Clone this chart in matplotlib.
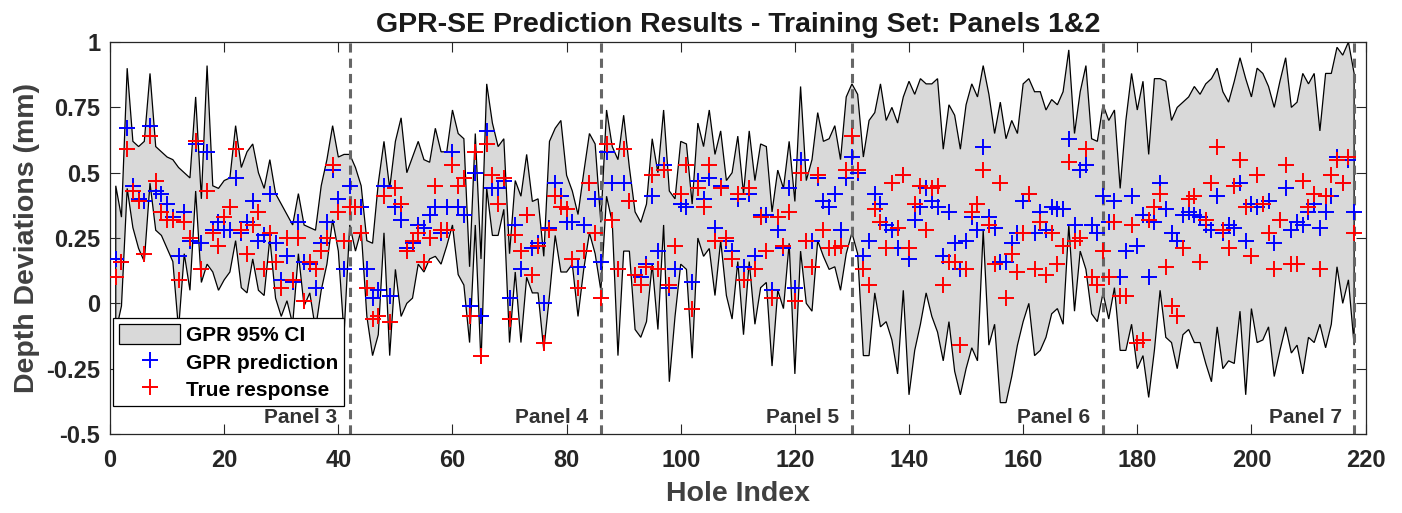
import numpy as np
import matplotlib.pyplot as plt

plt.rcParams['font.family'] = ['Liberation Sans', 'DejaVu Sans']
plt.rcParams['font.weight'] = 'bold'

# hole index 1..218
hole = np.arange(1, 219)

ci_upper = [
    0.45, 0.33, 0.90, 0.62, 0.60, 0.62, 0.88, 0.60, 0.58, 0.56, 0.55, 0.52, 0.50, 0.48, 0.79, 0.40, 0.91, 0.45, 0.44, 0.47, 0.48,
    0.68, 0.52, 0.58, 0.61, 0.50, 0.44, 0.55, 0.42, 0.38, 0.34, 0.30, 0.42, 0.30, 0.29, 0.28, 0.45, 0.55, 0.68, 0.56, 0.57,
    0.57, 0.52, 0.45, 0.24, 0.23, 0.46, 0.62, 0.44, 0.62, 0.71, 0.50, 0.56, 0.62, 0.55, 0.54, 0.67, 0.58, 0.58, 0.74, 0.65,
    0.63, 0.14, 0.65, 0.17, 0.84, 0.69, 0.60, 0.63, 0.19, 0.47, 0.41, 0.57, 0.39, 0.40, 0.18, 0.62, 0.67, 0.70, 0.49, 0.43,
    0.34, 0.50, 0.65, 0.61, 0.31, 0.74, 0.60, 0.55, 0.72, 0.52, 0.35, 0.31, 0.38, 0.63, 0.50, 0.74, 0.43, 0.40, 0.62, 0.61,
    0.38, 0.69, 0.60, 0.74, 0.57, 0.66, 0.47, 0.50, 0.64, 0.42, 0.66, 0.47, 0.61, 0.60, 0.35, 0.51, 0.44, 0.62, 0.39, 0.83,
    0.47, 0.55, 0.73, 0.62, 0.63, 0.68, 0.55, 0.79, 0.84, 0.80, 0.56, 0.70, 0.73, 0.84, 0.70, 0.75, 0.69, 0.79, 0.85, 0.80, 0.86,
    0.84, 0.84, 0.86, 0.59, 0.76, 0.72, 0.59, 0.76, 0.84, 0.79, 0.91, 0.80, 0.65, 0.77, 0.63, 0.70, 0.65, 0.84, 0.86, 0.81,
    0.81, 0.74, 0.78, 0.76, 0.81, 0.97, 0.65, 0.81, 0.91, 0.63, 0.62, 0.76, 0.70, 0.74, 0.44, 0.70, 0.88, 0.74, 0.85, 0.57,
    0.86, 0.86, 0.85, 0.70, 0.75, 0.77, 0.79, 0.83, 0.80, 0.84, 0.86, 0.90, 0.81, 0.77, 0.85, 0.94, 0.86, 0.79, 0.90, 0.88,
    0.83, 0.75, 0.85, 0.94, 0.75, 0.77, 0.88, 0.84, 0.88, 0.66, 0.88, 0.88, 0.98, 0.95, 1.00, 0.88,
]

ci_lower = [
    -0.11, -0.01, 0.44, 0.29, 0.21, 0.16, 0.46, 0.28, 0.26, 0.21, 0.16, -0.10, 0.19, 0.05, 0.43, 0.08, 0.15, 0.12, 0.05, 0.09, 0.12,
    0.24, 0.06, 0.04, 0.17, 0.05, 0.03, 0.25, 0.02, -0.05, 0.01, -0.08, 0.19, -0.01, 0.04, -0.10, 0.05, 0.15, 0.32, 0.20, -0.12,
    0.30, 0.20, 0.28, -0.05, -0.20, -0.12, 0.27, -0.20, 0.13, -0.05, 0.00, 0.02, 0.15, 0.12, 0.17, 0.18, 0.15, 0.22, 0.30, 0.11,
    0.07, -0.15, 0.30, -0.23, 0.44, 0.26, 0.26, 0.36, -0.15, 0.12, -0.15, 0.10, 0.04, 0.04, -0.18, 0.03, 0.26, 0.12, 0.12, 0.15,
    -0.05, 0.13, 0.27, 0.19, 0.05, 0.41, 0.31, -0.20, 0.20, 0.20, -0.10, -0.13, -0.07, 0.15, -0.10, 0.30, -0.30, -0.05, 0.15, 0.13,
    -0.21, 0.25, 0.18, 0.21, 0.03, 0.24, 0.03, -0.06, 0.16, -0.12, 0.16, -0.08, 0.06, 0.08, -0.24, 0.05, -0.02, 0.23, -0.27, 0.20,
    0.00, -0.03, 0.24, 0.18, 0.13, 0.14, 0.05, 0.19, 0.27, 0.19, -0.20, -0.20, 0.04, -0.09, -0.07, -0.14, -0.27, 0.05, -0.35, -0.18, -0.08,
    0.04, -0.05, -0.11, -0.22, -0.07, -0.26, -0.35, -0.25, -0.17, -0.22, 0.28, -0.16, -0.08, -0.38, -0.38, -0.28, -0.16, -0.07, 0.00, -0.20,
    -0.18, -0.13, -0.04, -0.02, -0.08, 0.30, -0.03, 0.20, 0.13, -0.04, -0.07, 0.04, -0.06, 0.06, -0.18, -0.18, -0.08, -0.25, -0.20, -0.36,
    -0.18, 0.05, -0.13, -0.15, -0.25, -0.12, -0.10, -0.15, -0.15, -0.23, -0.30, -0.09, -0.25, -0.22, -0.23, -0.03, -0.35, -0.02, -0.15, -0.14,
    -0.09, -0.28, -0.18, -0.09, -0.19, -0.16, -0.27, -0.13, -0.15, -0.08, -0.17, -0.08, 0.14, 0.00, 0.09, -0.16,
]

gpr_pred = [
    0.17, 0.16, 0.67, 0.45, 0.40, 0.39, 0.68, 0.43, 0.42, 0.38, 0.33, 0.18, 0.35, 0.24, 0.61, 0.23, 0.58, 0.28, 0.31, 0.28, 0.28,
    0.48, 0.27, 0.31, 0.39, 0.24, 0.26, 0.42, 0.23, 0.09, 0.18, 0.08, 0.31, 0.16, 0.15, 0.06, 0.23, 0.31, 0.51, 0.40, 0.13,
    0.45, 0.37, 0.37, 0.13, 0.02, 0.05, 0.45, 0.03, 0.37, 0.32, 0.21, 0.23, 0.30, 0.29, 0.34, 0.37, 0.27, 0.37, 0.58, 0.37,
    0.34, -0.01, 0.50, -0.05, 0.66, 0.44, 0.44, 0.47, 0.02, 0.30, 0.13, 0.34, 0.21, 0.23, 0.00, 0.29, 0.46, 0.41, 0.31, 0.31,
    0.14, 0.30, 0.46, 0.40, 0.16, 0.58, 0.46, 0.13, 0.46, 0.39, 0.11, 0.10, 0.15, 0.41, 0.20, 0.53, 0.06, 0.13, 0.38, 0.37,
    0.08, 0.47, 0.40, 0.48, 0.29, 0.45, 0.24, 0.20, 0.40, 0.14, 0.42, 0.18, 0.34, 0.34, 0.05, 0.28, 0.21, 0.44, 0.06, 0.55,
    0.24, 0.24, 0.48, 0.39, 0.37, 0.42, 0.28, 0.48, 0.56, 0.50, 0.18, 0.24, 0.42, 0.38, 0.30, 0.28, 0.21, 0.49, 0.17, 0.32, 0.37,
    0.44, 0.39, 0.37, 0.18, 0.35, 0.23, 0.13, 0.24, 0.33, 0.28, 0.60, 0.33, 0.29, 0.16, 0.16, 0.23, 0.27, 0.39, 0.42, 0.27,
    0.35, 0.28, 0.37, 0.36, 0.36, 0.63, 0.30, 0.51, 0.53, 0.30, 0.27, 0.41, 0.31, 0.39, 0.10, 0.20, 0.41, 0.22, 0.34, 0.10,
    0.31, 0.46, 0.36, 0.27, 0.24, 0.34, 0.35, 0.34, 0.33, 0.30, 0.28, 0.41, 0.27, 0.30, 0.29, 0.46, 0.24, 0.38, 0.37, 0.38,
    0.39, 0.23, 0.32, 0.44, 0.28, 0.31, 0.30, 0.35, 0.38, 0.29, 0.35, 0.41, 0.56, 0.46, 0.55, 0.35,
]

true_resp = [
    0.10, 0.16, 0.59, 0.43, 0.39, 0.19, 0.64, 0.47, 0.35, 0.32, 0.32, 0.09, 0.31, 0.25, 0.62, 0.13, 0.43, 0.27, 0.22, 0.33, 0.37,
    0.59, 0.28, 0.19, 0.30, 0.35, 0.13, 0.27, 0.16, 0.06, 0.25, 0.09, 0.25, 0.01, 0.16, 0.13, 0.20, 0.25, 0.53, 0.35, 0.24,
    0.37, 0.37, 0.27, 0.06, -0.06, -0.05, 0.41, -0.07, 0.44, 0.38, 0.20, 0.24, 0.27, 0.16, 0.25, 0.45, 0.28, 0.28, 0.53, 0.45,
    0.48, -0.05, 0.58, -0.20, 0.61, 0.49, 0.38, 0.48, -0.06, 0.26, 0.20, 0.34, 0.11, 0.22, -0.15, 0.28, 0.41, 0.37, 0.36, 0.17,
    0.06, 0.20, 0.46, 0.27, 0.02, 0.61, 0.32, 0.13, 0.59, 0.39, 0.11, 0.07, 0.14, 0.49, 0.13, 0.51, 0.07, 0.22, 0.42, 0.53,
    -0.02, 0.44, 0.37, 0.53, 0.24, 0.44, 0.25, 0.17, 0.42, 0.09, 0.44, 0.13, 0.33, 0.20, 0.02, 0.33, 0.22, 0.35, 0.01, 0.50,
    0.24, 0.14, 0.49, 0.28, 0.21, 0.21, 0.22, 0.51, 0.64, 0.51, 0.13, 0.07, 0.36, 0.31, 0.21, 0.46, 0.29, 0.49, 0.21, 0.38, 0.45,
    0.28, 0.44, 0.45, 0.07, 0.16, 0.16, -0.16, 0.13, 0.35, 0.38, 0.51, 0.30, 0.15, 0.46, 0.02, 0.19, 0.12, 0.27, 0.42, 0.13,
    0.31, 0.11, 0.27, 0.15, 0.22, 0.54, 0.24, 0.25, 0.59, 0.10, 0.07, 0.20, 0.10, 0.31, 0.03, 0.03, 0.30, -0.15, -0.14, 0.32,
    0.37, 0.42, 0.14, -0.01, -0.05, 0.21, 0.40, 0.41, 0.16, 0.32, 0.46, 0.60, 0.28, 0.21, 0.45, 0.55, 0.37, 0.18, 0.49, 0.38,
    0.27, 0.13, 0.32, 0.53, 0.15, 0.15, 0.47, 0.37, 0.42, 0.13, 0.41, 0.49, 0.55, 0.46, 0.56, 0.27,
]

panel_edges = [42, 86, 130, 174, 218]
panel_names = ['Panel 3', 'Panel 4', 'Panel 5', 'Panel 6', 'Panel 7']

fig = plt.figure(figsize=(14.02, 5.13), dpi=100)
ax = fig.add_axes([0.0785, 0.154, 0.8955, 0.764])

up = np.array(ci_upper)
lo = np.array(ci_lower)
ax.fill(np.r_[hole, hole[::-1]], np.r_[up, lo[::-1]],
        facecolor=(0.85, 0.85, 0.85), edgecolor='k', lw=0.9,
        label='GPR 95% CI', zorder=1)

for e in panel_edges:
    ax.axvline(e, color='0.4', ls=(0, (3, 2)), lw=2.2, zorder=2)
for e, name in zip(panel_edges, panel_names):
    ax.text(e - 2.2, -0.435, name, ha='right', va='center',
            fontsize=15, fontweight='bold', color='0.2', zorder=2)

ax.plot(hole, gpr_pred, 'b+', ms=11, mew=1.4, label='GPR prediction', zorder=3)
ax.plot(hole, true_resp, 'r+', ms=11, mew=1.4, label='True response', zorder=4)

ax.set_xlim(0, 220)
ax.set_ylim(-0.5, 1)
ax.set_xticks(np.arange(0, 221, 20))
ax.set_yticks([-0.5, -0.25, 0, 0.25, 0.5, 0.75, 1])
ax.set_yticklabels(['-0.5', '-0.25', '0', '0.25', '0.5', '0.75', '1'])
ax.tick_params(direction='in', top=True, right=True, length=7, width=0.8,
               labelsize=17, colors='0.15')
ax.tick_params(axis='x', pad=11)
ax.tick_params(axis='y', pad=7)
for lab in ax.get_xticklabels() + ax.get_yticklabels():
    lab.set_fontweight('bold')
for s in ax.spines.values():
    s.set_color('0.15')
    s.set_linewidth(0.9)

ax.set_xlabel('Hole Index', fontsize=20.5, fontweight='bold', color='0.25')
ax.set_ylabel('Depth Deviations (mm)', fontsize=20.5, fontweight='bold', color='0.25')
ax.xaxis.set_label_coords(0.5, -0.12)
ax.yaxis.set_label_coords(-0.056, 0.5)
ax.set_title('GPR-SE Prediction Results - Training Set: Panels 1&2',
             fontsize=20.5, fontweight='bold', pad=7, color='0.1')

leg = ax.legend(loc='lower left', bbox_to_anchor=(0.0024, 0.071), borderaxespad=0,
                fontsize=15, handlelength=2.9, handleheight=1.1, handletextpad=0.3,
                labelspacing=0.3, borderpad=0.3, fancybox=False, framealpha=1,
                edgecolor='k')
leg.get_frame().set_linewidth(0.9)
for t in leg.get_texts():
    t.set_fontweight('bold')

fig.savefig('out.png', dpi=100)
